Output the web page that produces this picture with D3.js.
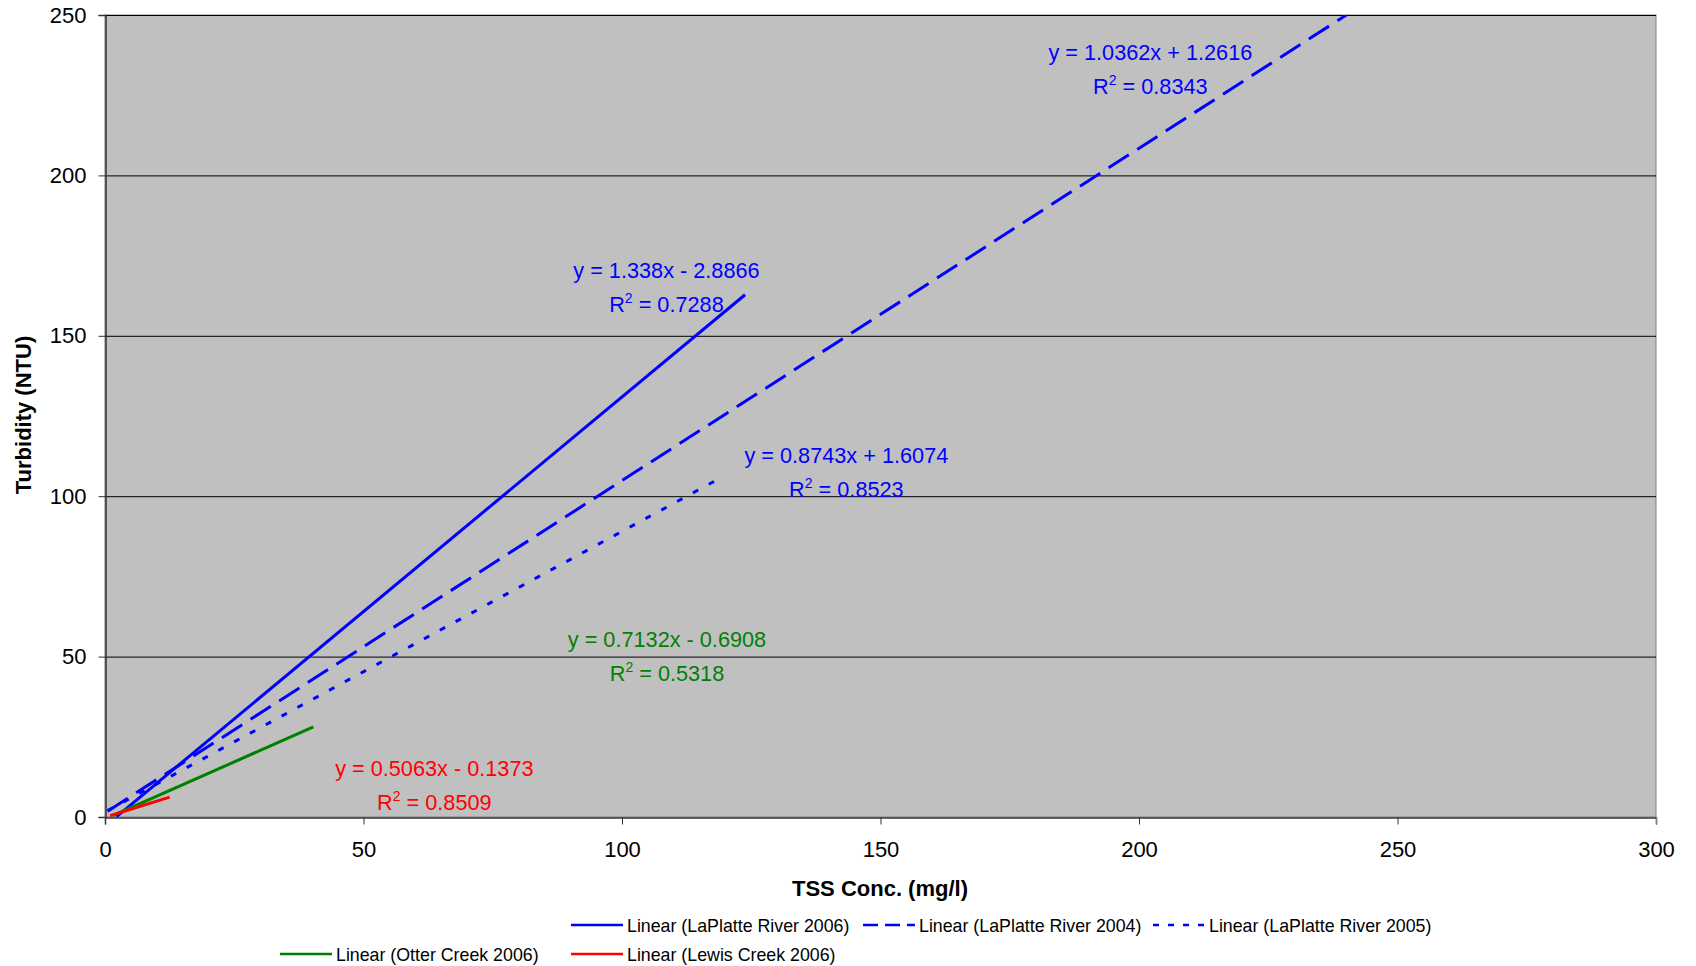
<!DOCTYPE html>
<html>
<head>
<meta charset="utf-8">
<script src="https://cdn.jsdelivr.net/npm/d3@7"></script>
<style>
  body { margin: 0; background: #fff; }
  text { font-family: "Liberation Sans", Arial, sans-serif; }
</style>
</head>
<body>
<div id="chart"></div>
<script>
// tick values
const xTicks = [0, 50, 100, 150, 200, 250, 300];
const yTicks = [0, 50, 100, 150, 200, 250];

// trendline end points (TSS, turbidity)
const laPlatte2006 = [[2.2, 0.06], [123.8, 162.8]];
const laPlatte2004 = [[0.5, 1.8], [240.1, 250]];
const laPlatte2005 = [[0.5, 2.0], [118.6, 105.3]];
const otterCreek2006 = [[1.5, 0.4], [40.3, 28.1]];
const lewisCreek2006 = [[1.0, 0.4], [12.5, 6.2]];

const seriesNames = ["Linear (LaPlatte River 2006)", "Linear (LaPlatte River 2004)",
  "Linear (LaPlatte River 2005)", "Linear (Otter Creek 2006)", "Linear (Lewis Creek 2006)"];
const equations = ["y = 1.338x - 2.8866", "y = 1.0362x + 1.2616", "y = 0.8743x + 1.6074",
  "y = 0.7132x - 0.6908", "y = 0.5063x - 0.1373"];
const rSquared = ["0.7288", "0.8343", "0.8523", "0.5318", "0.8509"];
// where each equation label sits, in data units (centre x, baseline y)
const labelAt = [[108.6, 168.0], [202.2, 236.1], [143.4, 110.5], [108.7, 53.1], [63.7, 12.9]];

const colors = ["#0000FF", "#0000FF", "#0000FF", "#008000", "#FF0000"];
const dashes = [null, "24,10", "6,12", null, null];
const legendDashes = [null, "15,7", "6,9", null, null];

function main() {
    const W = 1696, H = 966;
    const plot = { left: 105, right: 1656, top: 15, bottom: 817 };

    const svg = d3.select("#chart").append("svg")
        .attr("width", W)
        .attr("height", H);

    const xScale = d3.scaleLinear().domain([0, 300]).range([plot.left, plot.right]);
    const yScale = d3.scaleLinear().domain([0, 250]).range([plot.bottom, plot.top]);

    svg.append("defs").append("clipPath").attr("id", "plotClip")
        .append("rect")
        .attr("x", plot.left).attr("y", plot.top)
        .attr("width", plot.right - plot.left).attr("height", plot.bottom - plot.top);

    // plot background
    svg.append("rect")
        .attr("x", plot.left).attr("y", plot.top)
        .attr("width", plot.right - plot.left)
        .attr("height", plot.bottom - plot.top)
        .attr("fill", "#C0C0C0")
        .attr("stroke", "#808080")
        .attr("stroke-width", 1);

    // gridlines
    svg.append("g")
        .selectAll("line")
        .data(yTicks.filter(d => d > 0))
        .enter()
        .append("line")
        .attr("x1", plot.left).attr("x2", plot.right)
        .attr("y1", d => yScale(d) + 0.5).attr("y2", d => yScale(d) + 0.5)
        .attr("stroke", "#000")
        .attr("stroke-width", 1);

    // axes
    const xAxis = svg.append("g")
        .attr("transform", "translate(0," + (plot.bottom + 0.5) + ")")
        .call(d3.axisBottom(xScale).tickValues(xTicks).tickSize(7).tickPadding(17).tickFormat(d3.format("d")));
    const yAxis = svg.append("g")
        .attr("transform", "translate(" + (plot.left + 0.5) + ",0)")
        .call(d3.axisLeft(yScale).tickValues(yTicks).tickSize(7).tickPadding(12).tickFormat(d3.format("d")));

    [xAxis, yAxis].forEach(ax => {
        ax.select(".domain").attr("stroke", "#333").attr("stroke-width", 1.5);
        ax.selectAll(".tick line").attr("stroke", "#333");
        ax.selectAll(".tick text")
            .attr("fill", "#000")
            .style("font-size", "22px")
            .style("font-family", "'Liberation Sans', Arial, sans-serif");
    });
    xAxis.select(".tick:last-of-type line").attr("stroke", "#808080");

    // trendlines
    const allSeries = [laPlatte2006, laPlatte2004, laPlatte2005, otterCreek2006, lewisCreek2006];
    const line = d3.line().x(d => xScale(d[0])).y(d => yScale(d[1]));
    const lines = svg.append("g").attr("clip-path", "url(#plotClip)");
    allSeries.forEach((s, i) => {
        lines.append("path")
            .datum(s)
            .attr("d", line)
            .attr("fill", "none")
            .attr("stroke", colors[i])
            .attr("stroke-width", 3)
            .attr("stroke-dasharray", dashes[i]);
    });

    // equation labels
    const labels = svg.append("g");
    labelAt.forEach((p, i) => {
        const cx = xScale(p[0]), by = yScale(p[1]);
        labels.append("text")
            .attr("x", cx).attr("y", by)
            .attr("text-anchor", "middle")
            .attr("fill", colors[i])
            .style("font-size", "21.7px")
            .text(equations[i]);
        const r = labels.append("text")
            .attr("x", cx).attr("y", by + 34)
            .attr("text-anchor", "middle")
            .attr("fill", colors[i])
            .style("font-size", "21.7px");
        r.append("tspan").text("R");
        r.append("tspan").attr("dy", -9).style("font-size", "14px").text("2");
        r.append("tspan").attr("dy", 9).text(" = " + rSquared[i]);
    });

    // axis titles
    svg.append("text")
        .attr("x", 880).attr("y", 896)
        .attr("text-anchor", "middle")
        .style("font-size", "22px")
        .style("font-weight", "bold")
        .text("TSS Conc. (mg/l)");

    svg.append("text")
        .attr("transform", "translate(31,415) rotate(-90)")
        .attr("text-anchor", "middle")
        .style("font-size", "22px")
        .style("font-weight", "bold")
        .text("Turbidity (NTU)");

    // legend
    const legendPos = [[571, 925], [863, 925], [1153, 925], [280, 954], [571, 954]];
    const legend = svg.append("g");
    seriesNames.forEach((name, i) => {
        const [lx, ly] = legendPos[i];
        legend.append("line")
            .attr("x1", lx).attr("x2", lx + 52)
            .attr("y1", ly).attr("y2", ly)
            .attr("stroke", colors[i])
            .attr("stroke-width", 2.5)
            .attr("stroke-dasharray", legendDashes[i]);
        legend.append("text")
            .attr("x", lx + 56).attr("y", ly + 6.5)
            .style("font-size", "17.8px")
            .attr("fill", "#000")
            .text(name);
    });
}
window.addEventListener("load", main);
</script>
</body>
</html>
